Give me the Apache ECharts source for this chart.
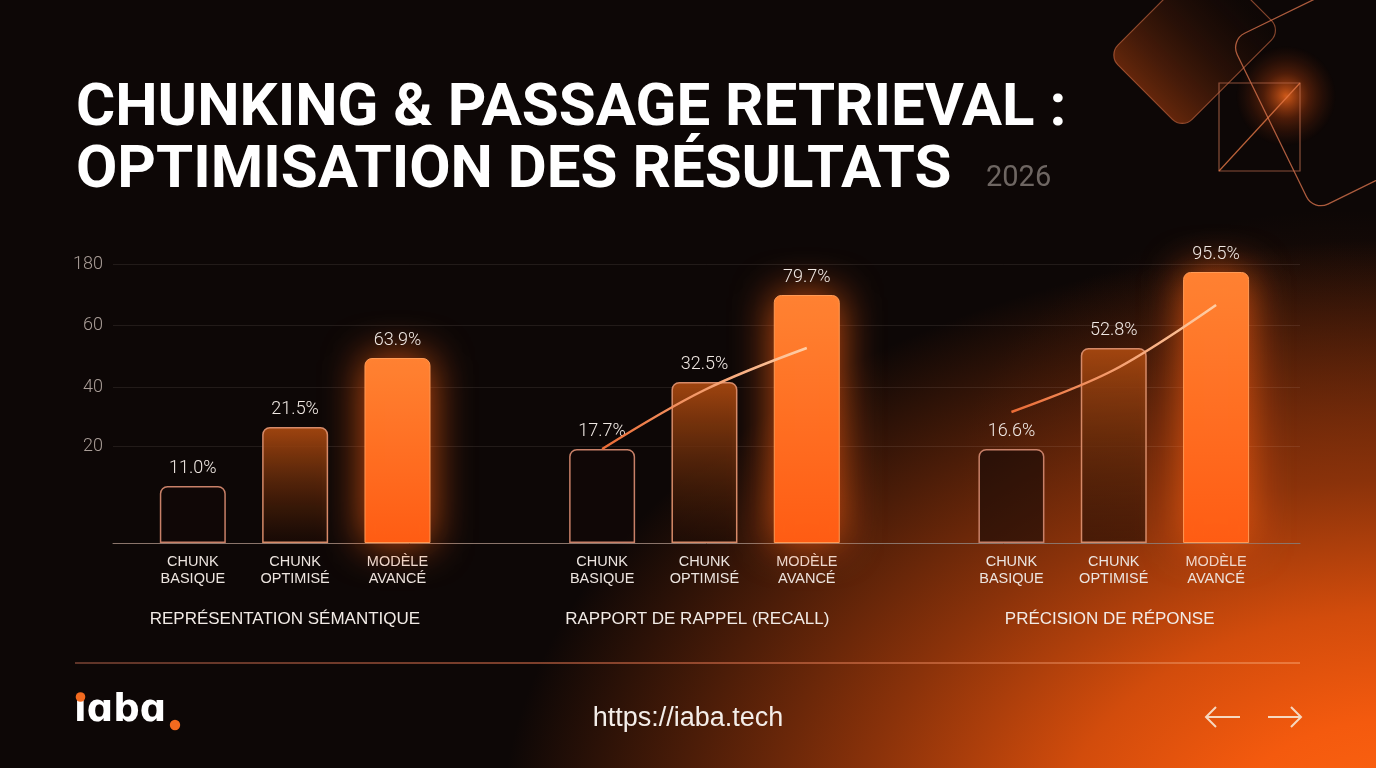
<!DOCTYPE html>
<html>
<head>
<meta charset="utf-8">
<script src="https://cdn.jsdelivr.net/npm/echarts@6/dist/echarts.min.js"></script>
<style>
  html, body { margin: 0; padding: 0; }
  body {
    width: 1376px; height: 768px; overflow: hidden;
    background:
      radial-gradient(ellipse 900px 600px at 1400px 840px, #ff6612 0%, #f45a0e 20%, #d24c0c 38%, #8a320a 60%, rgba(40,14,4,0) 100%),
      radial-gradient(ellipse 380px 260px at 1340px 470px, rgba(110,40,10,0.45) 0%, rgba(60,20,6,0) 100%),
      #0d0706;
  }
  #chart { width: 1376px; height: 768px; }
</style>
</head>
<body>
<div id="chart"></div>
<script>
// ---- data ----
const groupNames = ['REPRÉSENTATION SÉMANTIQUE', 'RAPPORT DE RAPPEL (RECALL)', 'PRÉCISION DE RÉPONSE'];
const methodNames = ['CHUNK\nBASIQUE', 'CHUNK\nOPTIMISÉ', 'MODÈLE\nAVANCÉ'];
// bar heights as drawn on the chart's (irregular) axis scale
const semanticHeights = [57, 116, 185];
const recallHeights = [94, 161, 248];
const precisionHeights = [94, 195, 271];
// value labels printed above bars
const semanticLabels = ['11.0%', '21.5%', '63.9%'];
const recallLabels = ['17.7%', '32.5%', '79.7%'];
const precisionLabels = ['16.6%', '52.8%', '95.5%'];
// trend lines
const recallTrend = [94, 153, 195];
const precisionTrend = [131, 173, 238];
// y axis ticks
const yTickValues = [97, 156, 218, 279];
const yTickLabels = ['20', '40', '60', '180'];

const chart = echarts.init(document.getElementById('chart'), null, { renderer: 'canvas' });

const heightsByGroup = [semanticHeights, recallHeights, precisionHeights];
const labelsByGroup = [semanticLabels, recallLabels, precisionLabels];
const slot = (g, m) => g * 4 + m;

const styles = [
  { color: 'rgba(18,9,6,0.6)', borderColor: '#c88068', borderWidth: 1.5, borderRadius: [7, 7, 0, 0] },
  { color: new echarts.graphic.LinearGradient(0, 0, 0, 1, [
      { offset: 0, color: 'rgba(168,72,16,0.95)' }, { offset: 1, color: 'rgba(30,12,5,0.6)' }]),
    borderColor: '#d68a68', borderWidth: 1.5, borderRadius: [7, 7, 0, 0] },
  { color: new echarts.graphic.LinearGradient(0, 0, 0, 1, [
      { offset: 0, color: '#ff8232' }, { offset: 1, color: '#ff5c12' }]),
    borderColor: '#ff9a55', borderWidth: 1, borderRadius: [7, 7, 0, 0],
    shadowBlur: 40, shadowColor: 'rgba(255,96,18,0.8)' }
];

const barData = [];
const barLabelTexts = [];
heightsByGroup.forEach((hs, g) => {
  hs.forEach((h, m) => {
    barData.push({ value: [slot(g, m), h], itemStyle: styles[m] });
    barLabelTexts.push(labelsByGroup[g][m]);
  });
});

const catValues = [];
const catText = {};
for (let g = 0; g < 3; g++) for (let m = 0; m < 3; m++) { catValues.push(slot(g, m)); catText[slot(g, m)] = methodNames[m]; }
const groupValues = [0.9, 4.93, 8.96];
const groupText = {};
groupValues.forEach((v, i) => { groupText[v] = groupNames[i]; });

const lineGrad = new echarts.graphic.LinearGradient(0, 0, 1, 0, [
  { offset: 0, color: '#ea6a34' }, { offset: 1, color: '#ffd0a8' }]);

const xMin = -0.78, xMax = 10.82;

const option = {
  backgroundColor: 'transparent',
  animation: false,
  grid: { left: 113, right: 76, top: 243, bottom: 225 },
  xAxis: [
    {
      type: 'value', min: xMin, max: xMax,
      axisLine: { show: true, onZero: false, lineStyle: { color: '#8a746a', width: 1 } },
      axisTick: { show: false },
      splitLine: { show: false },
      axisLabel: {
        customValues: catValues,
        formatter: v => catText[v] || '',
        color: '#ece4df', fontSize: 14.5, lineHeight: 17, margin: 10,
        fontFamily: '"Liberation Sans", Arial'
      }
    },
    {
      type: 'value', min: xMin, max: xMax, position: 'bottom',
      axisLine: { show: false }, axisTick: { show: false }, splitLine: { show: false },
      axisLabel: {
        customValues: groupValues,
        formatter: v => groupText[v] || '',
        color: '#f2ebe6', fontSize: 17, margin: 68, fontFamily: '"Liberation Sans", Arial'
      }
    }
  ],
  yAxis: {
    type: 'value', min: 0, max: 300,
    axisLine: { show: false },
    axisTick: { show: false, customValues: yTickValues },
    axisLabel: {
      customValues: yTickValues,
      formatter: v => yTickLabels[yTickValues.indexOf(v)] || '',
      color: '#a99d97', fontSize: 18, fontWeight: 300, margin: 10, fontFamily: 'Roboto'
    },
    splitLine: { show: true, lineStyle: { color: 'rgba(255,235,225,0.09)', width: 1 } }
  },
  series: [
    {
      type: 'bar', barWidth: 66, data: barData, z: 3,
      label: {
        show: true, position: 'top', distance: 9,
        formatter: p => barLabelTexts[p.dataIndex],
        color: '#f0e8e3', fontSize: 18, fontWeight: 300, fontFamily: 'Roboto'
      }
    },
    {
      type: 'line', z: 5, smooth: 0.35, showSymbol: false, silent: true,
      data: recallTrend.map((v, m) => [slot(1, m), v]),
      lineStyle: { width: 2.5, color: lineGrad }
    },
    {
      type: 'line', z: 5, smooth: 0.35, showSymbol: false, silent: true,
      data: precisionTrend.map((v, m) => [slot(2, m), v]),
      lineStyle: { width: 2.5, color: lineGrad }
    }
  ],
  graphic: [
    // decorative shapes top-right
    { type: 'circle', z: -1, silent: true, shape: { cx: 1286, cy: 96, r: 50 },
      style: { fill: new echarts.graphic.RadialGradient(0.5, 0.5, 0.5, [
        { offset: 0, color: 'rgba(255,110,30,0.8)' }, { offset: 0.45, color: 'rgba(200,70,15,0.35)' }, { offset: 1, color: 'rgba(120,40,10,0)' }]) } },
    { type: 'rect', z: 0, silent: true, x: 1108, y: 55, rotation: Math.PI / 4,
      shape: { x: 0, y: 0, width: 140, height: 105, r: 14 },
      style: { fill: new echarts.graphic.LinearGradient(0, 0, 1, 0, [
        { offset: 0, color: 'rgba(160,60,15,0.6)' }, { offset: 1, color: 'rgba(40,14,5,0.05)' }]),
        stroke: 'rgba(210,110,70,0.6)', lineWidth: 1.2 } },
    { type: 'rect', z: 0, silent: true, x: 1401, y: -43, rotation: -1.117,
      shape: { x: 0, y: 0, width: 190, height: 190, r: 16 },
      style: { fill: 'rgba(0,0,0,0)', stroke: 'rgba(225,120,80,0.75)', lineWidth: 1.3 } },
    { type: 'rect', z: 1, silent: true, shape: { x: 1219, y: 83, width: 81, height: 88 },
      style: { fill: 'rgba(0,0,0,0)', stroke: 'rgba(190,110,80,0.7)', lineWidth: 1.2 } },
    { type: 'line', z: 1, silent: true, shape: { x1: 1219, y1: 171, x2: 1300, y2: 83 },
      style: { stroke: 'rgba(230,120,70,0.8)', lineWidth: 1.2 } },
    // title
    { type: 'text', z: 10, left: 76, top: 80, silent: true,
      style: { text: 'CHUNKING & PASSAGE RETRIEVAL :', fill: '#ffffff', font: '700 60px Roboto' } },
    { type: 'text', z: 10, left: 76, top: 142, silent: true,
      style: { text: 'OPTIMISATION DES RÉSULTATS', fill: '#ffffff', font: '700 60px Roboto' } },
    { type: 'text', z: 10, left: 986, top: 164, silent: true,
      style: { text: '2026', fill: '#6e6662', font: '400 29px Roboto' } },
    // footer separator
    { type: 'line', z: 2, silent: true, shape: { x1: 75, y1: 663, x2: 1300, y2: 663 },
      style: { stroke: new echarts.graphic.LinearGradient(0, 0, 1, 0, [
        { offset: 0, color: '#7a4434' }, { offset: 0.5, color: '#b0583a' }, { offset: 1, color: '#f0884e' }]), lineWidth: 1.5 } },
    // logo
    { type: 'text', z: 10, left: 74, top: 693, silent: true,
      style: { text: 'ıɑbɑ', fill: '#ffffff', font: 'bold 37px "DejaVu Sans"' } },
    { type: 'circle', z: 10, silent: true, shape: { cx: 80.5, cy: 697, r: 4.8 }, style: { fill: '#f26a1f' } },
    { type: 'circle', z: 10, silent: true, shape: { cx: 175, cy: 725, r: 5.2 }, style: { fill: '#f26a1f' } },
    // url
    { type: 'text', z: 10, left: 'center', top: 705, silent: true,
      style: { text: 'https://iaba.tech', fill: '#f3ede9', font: '400 27px "Liberation Sans"' } },
    // arrows
    { type: 'polyline', z: 10, silent: true, shape: { points: [[1240, 717], [1206, 717]] }, style: { stroke: '#f6d8c0', lineWidth: 2 } },
    { type: 'polyline', z: 10, silent: true, shape: { points: [[1216, 707], [1206, 717], [1216, 727]] }, style: { stroke: '#f6d8c0', lineWidth: 2, fill: null } },
    { type: 'polyline', z: 10, silent: true, shape: { points: [[1268, 717], [1301, 717]] }, style: { stroke: '#f6d8c0', lineWidth: 2 } },
    { type: 'polyline', z: 10, silent: true, shape: { points: [[1291, 707], [1301, 717], [1291, 727]] }, style: { stroke: '#f6d8c0', lineWidth: 2, fill: null } }
  ]
};
chart.setOption(option);
</script>
</body>
</html>
